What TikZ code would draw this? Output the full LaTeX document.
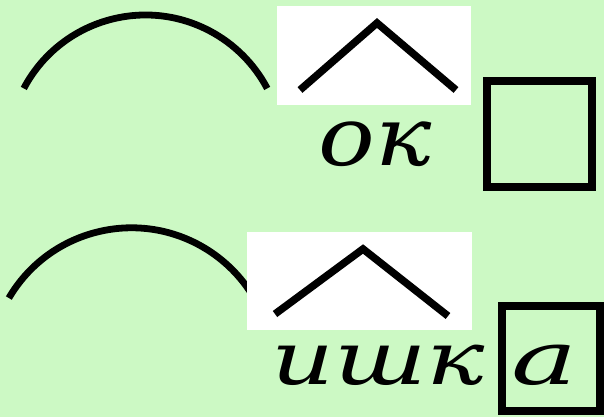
\documentclass[tikz,border=0pt]{standalone}
\usepackage{fontspec}
\newfontfamily\wordfont{DejaVu Serif}
\definecolor{bg}{RGB}{204,249,196}
\tikzset{
  mark line/.style={line width=6.8pt, line cap=butt},
  caret line/.style={line width=7.5pt, line cap=butt, line join=miter},
  endbox/.style={draw, line width=8pt},
  whitepatch/.style={fill=white},
  word/.style={inner sep=0pt, anchor=base west},
}
\begin{document}
\begin{tikzpicture}[x=1pt,y=-1pt]
\useasboundingbox (0,0) rectangle (604,417);
\fill[bg] (0,0) rectangle (604,417);
% top row
\draw[mark line] (145.5,152.6) ++(-152.2:137.6) arc[start angle=-152.2, end angle=-27.8, radius=137.6];
\fill[whitepatch] (277,6) rectangle (471,105);
\draw[caret line] (300,90) -- (377,23) -- (456,90);
\node[word, xscale=1.15, font=\wordfont\itshape\fontsize{82}{82}\selectfont] (ok) at (318,165) {ок};
\draw[endbox] (486.7,81.5) rectangle (592.2,187);
% bottom row
\draw[mark line] (131.5,370) ++(-149.6:142.2) arc[start angle=-149.6, end angle=-30.4, radius=142.2];
\fill[whitepatch] (247,232) rectangle (472,330);
\draw[caret line] (275,314) -- (363,249) -- (448,316);
\node[word, xscale=1.32, font=\wordfont\itshape\fontsize{74}{74}\selectfont] (ishk) at (271,384) {ишк};
\draw[endbox] (502,306) rectangle (600,411);
\node[word, xscale=1.5, font=\wordfont\itshape\fontsize{74}{74}\selectfont] (a) at (511,384) {а};
\end{tikzpicture}
\end{document}
